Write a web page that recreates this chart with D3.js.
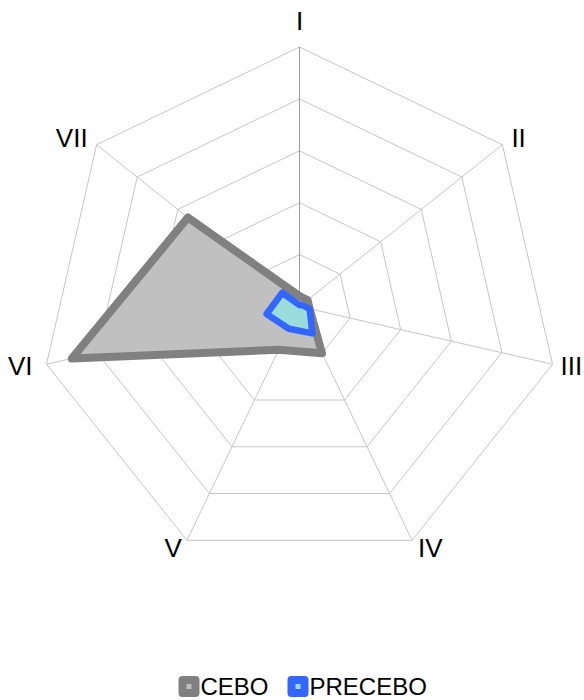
<!DOCTYPE html>
<html><head><meta charset="utf-8">
<script src="https://cdn.jsdelivr.net/npm/d3@7"></script>
<style>body{margin:0;background:#fff;font-family:"Liberation Sans",Arial,sans-serif}</style>
</head><body><svg id="c" width="584" height="700"></svg>
<script>
const categories = ["I","II","III","IV","V","VI","VII"];
const cebo = [4, 4, 4, 20, 18.5, 90, 55];
const precebo = [0.5, 1, 4, 11.5, 9.5, 13, 8.5];
const ticks = [20, 40, 60, 80, 100];
const seriesNames = ["CEBO","PRECEBO"];

const svg = d3.select("#c");
const cx = 299.5, cy = 306.5, R = 259.5;
const r = d3.scaleLinear().domain([0,100]).range([0,R]);
const ang = d3.scaleLinear().domain([0, categories.length]).range([0, 2*Math.PI]);
const g = svg.append("g").attr("transform", `translate(${cx},${cy})`);
const pt = (i, v) => [Math.sin(ang(i))*r(v), -Math.cos(ang(i))*r(v)];

// rings
ticks.forEach(t => {
  g.append("polygon")
    .attr("points", categories.map((c,i)=>pt(i,t).join(",")).join(" "))
    .attr("fill","none").attr("stroke","#c6c6c6").attr("stroke-width",1);
});
// spokes
categories.forEach((c,i)=>{
  const p = pt(i,100);
  g.append("line").attr("x1",0).attr("y1",0).attr("x2",p[0]).attr("y2",p[1])
    .attr("stroke", i===0 ? "#9a9a9a" : "#c6c6c6").attr("stroke-width",1);
});

const line = d3.lineRadial().angle((d,i)=>ang(i)).radius(d=>r(d)).curve(d3.curveLinearClosed);
g.append("path").attr("d", line(cebo)).attr("fill","#c0c0c0").attr("stroke","#808080")
  .attr("stroke-width",8).attr("stroke-linejoin","round");
g.append("path").attr("d", line(precebo)).attr("fill","#9adcdc").attr("stroke","#3366ff")
  .attr("stroke-width",6.5).attr("stroke-linejoin","round");

// labels
const labelPos = [
  {dx:0, dy:-17, anchor:"middle"},
  {dx:9, dy:2, anchor:"start"},
  {dx:8, dy:11, anchor:"start"},
  {dx:6, dy:17, anchor:"start"},
  {dx:-5, dy:17, anchor:"end"},
  {dx:-14, dy:11, anchor:"end"},
  {dx:-9, dy:2, anchor:"end"}
];
categories.forEach((c,i)=>{
  const p = pt(i,100), o = labelPos[i];
  g.append("text").attr("x", p[0]+o.dx).attr("y", p[1]+o.dy)
    .attr("text-anchor", o.anchor).attr("font-size",26).attr("fill","#000").text(c);
});

// legend
const legendColors = [["#808080","#c0c0c0"],["#3366ff","#9adcdc"]];
const lx = [182.5, 291.5];
seriesNames.forEach((s,i)=>{
  const lg = svg.append("g");
  lg.append("rect").attr("x", lx[i]).attr("y", 680).attr("width",13).attr("height",13)
    .attr("fill", legendColors[i][1]).attr("stroke", legendColors[i][0]).attr("stroke-width",8)
    .attr("stroke-linejoin","round");
  lg.append("text").attr("x", lx[i]+18).attr("y", 695).attr("font-size",24).attr("fill","#000").text(s);
});
</script></body></html>
